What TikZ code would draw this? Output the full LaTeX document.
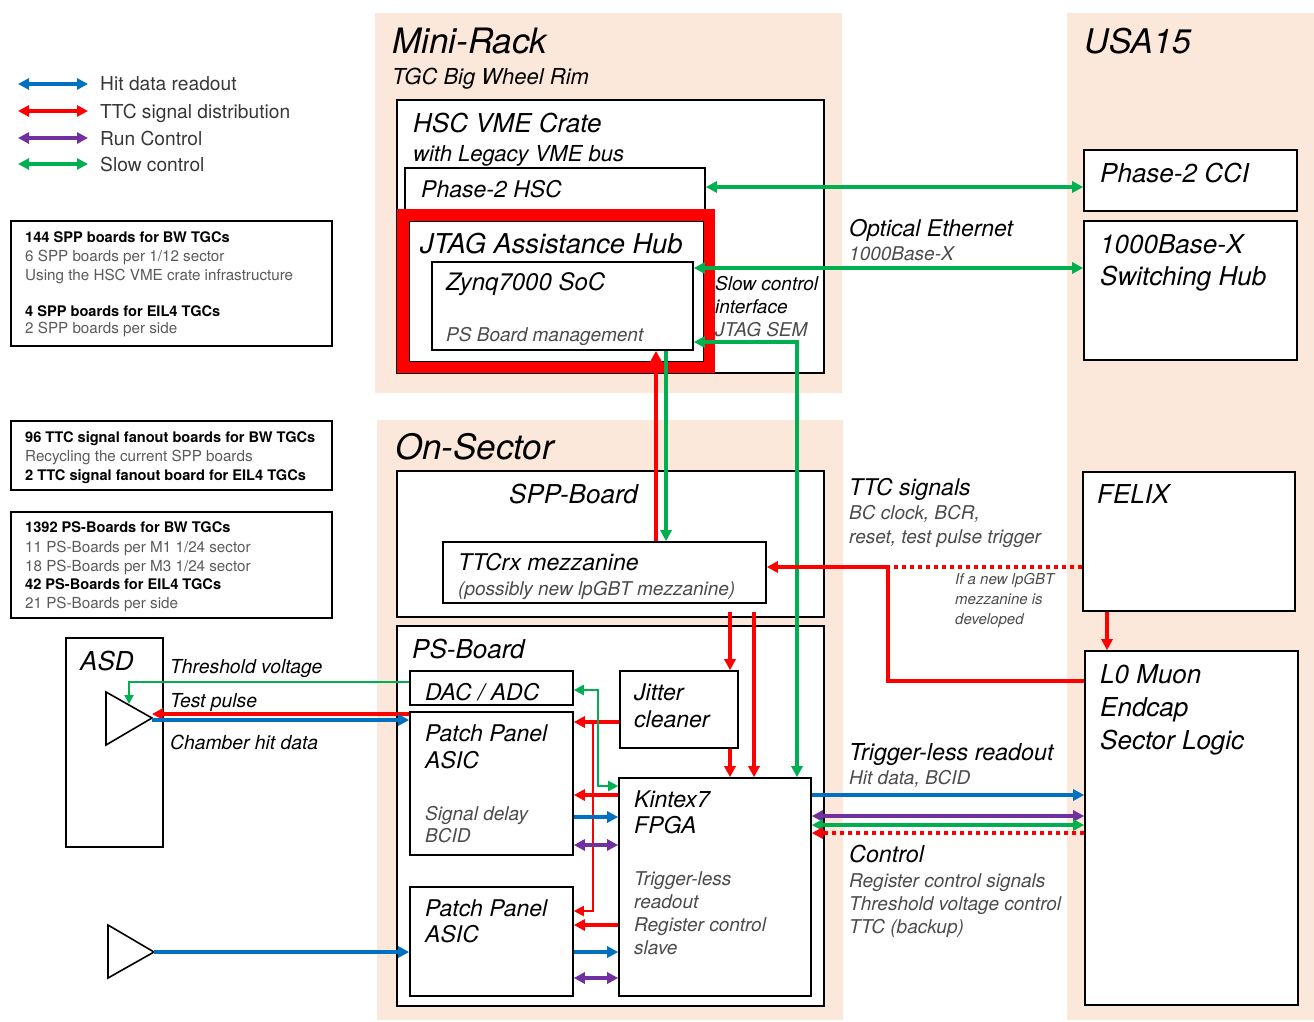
\documentclass[tikz,border=0pt]{standalone}
\usepackage{fontspec}
\setmainfont{TeX Gyre Heros}
\usetikzlibrary{arrows.meta,calc}
\definecolor{peach}{RGB}{252,232,218}
\definecolor{hitblue}{RGB}{0,112,192}
\definecolor{ttcred}{RGB}{255,0,0}
\definecolor{runpurple}{RGB}{112,48,160}
\definecolor{slowgreen}{RGB}{0,176,80}
\definecolor{softgray}{RGB}{75,75,75}
\definecolor{infogray}{RGB}{90,90,90}
\definecolor{legendgray}{RGB}{55,55,55}
\newcommand\setfs[1]{\fontsize{#1}{#1}\selectfont}
\tikzset{
  box/.style={draw, line width=1.6pt, fill=white, inner sep=0pt},
  txt/.style={anchor=base west, inner sep=0pt, font=\itshape\setfs{#1}},
  gtxt/.style={anchor=base west, inner sep=0pt, text=softgray, font=\itshape\setfs{#1}},
  info/.style={anchor=base west, inner sep=0pt, text=infogray, font=\setfs{15.2}},
  infob/.style={anchor=base west, inner sep=0pt, font=\bfseries\setfs{14.6}},
  sig/.style={line width=3.5pt, -{Triangle[length=11pt,width=11pt]}},
  sigboth/.style={line width=3.5pt, {Triangle[length=11pt,width=11pt]}-{Triangle[length=11pt,width=11pt]}},
  thin sig/.style={line width=2pt, -{Triangle[length=9pt,width=9pt]}},
  thin both/.style={line width=2.4pt, {Triangle[length=10pt,width=10pt]}-{Triangle[length=10pt,width=10pt]}},
  dotline/.style={line width=3.5pt, dash pattern=on 4pt off 4pt},
}
\begin{document}
\begin{tikzpicture}[x=1pt,y=-1pt]
\useasboundingbox (0,0) rectangle (1314,1021);

% location backgrounds
\fill[peach] (375,13) rectangle (842,393);
\fill[peach] (377,420) rectangle (843,1020);
\fill[peach] (1067,13) rectangle (1314,1020);

% legend
\coordinate (lgA1) at (18,84);  \coordinate (lgA2) at (88,84);
\coordinate (lgB1) at (18,111); \coordinate (lgB2) at (88,111);
\coordinate (lgC1) at (18,138); \coordinate (lgC2) at (88,138);
\coordinate (lgD1) at (18,164); \coordinate (lgD2) at (88,164);
\draw[sigboth, hitblue] (lgA1) -- (lgA2);
\draw[sigboth, ttcred] (lgB1) -- (lgB2);
\draw[sigboth, runpurple] (lgC1) -- (lgC2);
\draw[sigboth, slowgreen] (lgD1) -- (lgD2);
\node[anchor=base west, inner sep=0pt, text=legendgray, font=\setfs{19.2}] (lgAt) at (100,90) {Hit data readout};
\node[anchor=base west, inner sep=0pt, text=legendgray, font=\setfs{19.2}] (lgBt) at (100,118) {TTC signal distribution};
\node[anchor=base west, inner sep=0pt, text=legendgray, font=\setfs{19.2}] (lgCt) at (100,145) {Run Control};
\node[anchor=base west, inner sep=0pt, text=legendgray, font=\setfs{19.2}] (lgDt) at (100,171) {Slow control};

% board counts
\node[box, minimum width=321pt, minimum height=125pt] (info1) at (171.5,283.5) {};
\node[infob] (i1a) at (25,242) {144 SPP boards for BW TGCs};
\node[info] (i1b) at (25,261) {6 SPP boards per 1/12 sector};
\node[info] (i1c) at (25,280) {Using the HSC VME crate infrastructure};
\node[infob] (i1d) at (25,316) {4 SPP boards for EIL4 TGCs};
\node[info] (i1e) at (25,333) {2 SPP boards per side};

\node[box, minimum width=321pt, minimum height=69pt] (info2) at (171.5,455.5) {};
\node[infob] (i2a) at (25,442) {96 TTC signal fanout boards for BW TGCs};
\node[info] (i2b) at (25,461) {Recycling the current SPP boards};
\node[infob] (i2c) at (25,480) {2 TTC signal fanout board for EIL4 TGCs};

\node[box, minimum width=321pt, minimum height=106pt] (info3) at (171.5,565) {};
\node[infob] (i3a) at (25,532) {1392 PS-Boards for BW TGCs};
\node[info] (i3b) at (25,552) {11 PS-Boards per M1 1/24 sector};
\node[info] (i3c) at (25,571) {18 PS-Boards per M3 1/24 sector};
\node[infob] (i3d) at (25,589) {42 PS-Boards for EIL4 TGCs};
\node[info] (i3e) at (25,608) {21 PS-Boards per side};

% location titles
\node[txt=35] (tmini) at (392,53) {Mini-Rack};
\node[txt=22] (tmini2) at (392,84) {TGC Big Wheel Rim};
\node[txt=34] (tusa) at (1084,53) {USA15};
\node[txt=35] (tons) at (395,459) {On-Sector};

% mini-rack
\node[box, minimum width=427pt, minimum height=273pt] (hscrate) at (610.5,236.5) {};
\node[txt=26] (thsc1) at (413,132) {HSC VME Crate};
\node[txt=22] (thsc2) at (413,161) {with Legacy VME bus};
\node[box, minimum width=300pt, minimum height=46pt] (phsc) at (555,191) {};
\node[txt=23] (tphsc) at (421,197) {Phase-2 HSC};
\node[draw=ttcred, line width=12pt, fill=white, inner sep=0pt, minimum width=306pt, minimum height=152pt] (jtag) at (556,291) {};
\draw[line width=1pt] (409,221) rectangle (703,361);
\node[txt=27.3] (tjtag) at (420,253) {JTAG Assistance Hub};
\node[box, minimum width=261pt, minimum height=88pt] (zynq) at (562.5,306) {};
\node[txt=24] (tzynq) at (446,290) {Zynq7000 SoC};
\node[gtxt=19] (tzynq2) at (446,341) {PS Board management};
\node[txt=19] (tslow1) at (715,290) {Slow control};
\node[txt=19] (tslow2) at (715,313) {interface};
\node[gtxt=19] (tslow3) at (715,336) {JTAG SEM};

% USA15
\node[box, minimum width=213pt, minimum height=61pt] (cci) at (1190.5,180.5) {};
\node[txt=26] (tcci) at (1100,182) {Phase-2 CCI};
\node[box, minimum width=213pt, minimum height=139pt] (swhub) at (1190.5,290.5) {};
\node[txt=26] (tsw1) at (1100,253) {1000Base-X};
\node[txt=26] (tsw2) at (1100,285) {Switching Hub};
\node[box, minimum width=212pt, minimum height=139pt] (felix) at (1189,541.5) {};
\node[txt=26] (tfelix) at (1097,503) {FELIX};
\node[box, minimum width=213pt, minimum height=354pt] (l0) at (1191.5,828) {};
\node[txt=26] (tl0a) at (1100,683) {L0 Muon};
\node[txt=26] (tl0b) at (1100,716) {Endcap};
\node[txt=26] (tl0c) at (1100,749) {Sector Logic};

\node[txt=23] (topt) at (849,236) {Optical Ethernet};
\node[gtxt=19] (topt2) at (849,260) {1000Base-X};

% on-sector: SPP board
\node[box, minimum width=427pt, minimum height=146pt] (spp) at (610.5,544) {};
\node[txt=26] (tspp) at (509,503) {SPP-Board};
\node[box, minimum width=323pt, minimum height=61pt] (ttcrx) at (604.5,572.5) {};
\node[txt=23] (tttcrx) at (458,570) {TTCrx mezzanine};
\node[gtxt=19] (tttcrx2) at (458,595) {(possibly new lpGBT mezzanine)};

\node[txt=23] (tttc) at (849,495) {TTC signals};
\node[gtxt=19] (tttc2) at (849,519) {BC clock, BCR,};
\node[gtxt=19] (tttc3) at (849,543) {reset, test pulse trigger};
\node[gtxt=15] (tif1) at (955,584) {If a new lpGBT};
\node[gtxt=15] (tif2) at (955,604) {mezzanine is};
\node[gtxt=15] (tif3) at (955,624) {developed};

% on-sector: PS board
\node[box, minimum width=427pt, minimum height=380pt] (psb) at (610.5,816) {};
\node[txt=26] (tpsb) at (412,658) {PS-Board};
\node[box, minimum width=163pt, minimum height=34pt] (dac) at (491.5,688) {};
\node[txt=23] (tdac) at (425,700) {DAC / ADC};
\node[box, minimum width=118pt, minimum height=77pt] (jitter) at (679,709.5) {};
\node[txt=23] (tjit1) at (634,700) {Jitter};
\node[txt=23] (tjit2) at (634,727) {cleaner};
\node[box, minimum width=163pt, minimum height=143pt] (pp1) at (491.5,783.5) {};
\node[txt=23] (tpp1a) at (425,741) {Patch Panel};
\node[txt=23] (tpp1b) at (425,768) {ASIC};
\node[gtxt=19] (tpp1c) at (425,820) {Signal delay};
\node[gtxt=19] (tpp1d) at (425,842) {BCID};
\node[box, minimum width=163pt, minimum height=109pt] (pp2) at (491.5,941.5) {};
\node[txt=23] (tpp2a) at (425,916) {Patch Panel};
\node[txt=23] (tpp2b) at (425,942) {ASIC};
\node[box, minimum width=192pt, minimum height=218pt] (kintex) at (715,887) {};
\node[txt=23] (tk1) at (634,807) {Kintex7};
\node[txt=23] (tk2) at (634,833) {FPGA};
\node[gtxt=19] (tk3) at (634,885) {Trigger-less};
\node[gtxt=19] (tk4) at (634,908) {readout};
\node[gtxt=19] (tk5) at (634,931) {Register control};
\node[gtxt=19] (tk6) at (634,954) {slave};

\node[txt=23.3] (ttrl) at (849,760) {Trigger-less readout};
\node[gtxt=19] (ttrl2) at (849,784) {Hit data, BCID};
\node[txt=23.3] (tctl) at (849,862) {Control};
\node[gtxt=19] (tctl2) at (849,887) {Register control signals};
\node[gtxt=19] (tctl3) at (849,910) {Threshold voltage control};
\node[gtxt=19] (tctl4) at (849,933) {TTC (backup)};

% ASD
\node[box, minimum width=97pt, minimum height=209pt] (asd) at (114.5,742.5) {};
\node[txt=26] (tasd) at (80,670) {ASD};
\draw[line width=1.6pt, fill=white, line join=miter] (106,692) -- (106,745) -- (152,718) -- cycle;
\coordinate (amp1) at (152,718);
\draw[line width=1.6pt, fill=white, line join=miter] (108,925) -- (108,978) -- (154,952) -- cycle;
\coordinate (amp2) at (154,952);
\node[txt=19.3] (tthr) at (170,673) {Threshold voltage};
\node[txt=19.3] (ttp) at (170,707) {Test pulse};
\node[txt=19.3] (tchd) at (170,749) {Chamber hit data};

% ---- connectors ----
% slow control over optical ethernet
\draw[sigboth, slowgreen] (phsc.east |- 0,187) -- (cci.west |- 0,187);
\draw[sigboth, slowgreen] (zynq.east |- 0,268) -- (swhub.west |- 0,268);
\draw[sigboth, slowgreen] (zynq.east |- 0,342) -| (797,0 |- kintex.north);
% hub <-> SPP board
\draw[sig, ttcred] (656,0 |- ttcrx.north) -- (656,0 |- zynq.south);
\draw[sig, slowgreen] (666,0 |- zynq.south) -- (666,0 |- ttcrx.north);
% TTC from FELIX / sector logic
\coordinate (ttcj) at (888,567);
\draw[dotline, ttcred] (felix.west |- ttcj) -- (ttcj);
\draw[sig, ttcred] (ttcj) -- (ttcrx.east |- ttcj);
\draw[line width=3.5pt, ttcred] (l0.west |- 0,681) -| (ttcj);
\draw[sig, ttcred] (1107,0 |- felix.south) -- (1107,0 |- l0.north);
% SPP board -> PS board
\coordinate (sppA) at (730,612);
\coordinate (sppB) at (754,612);
\draw[sig, ttcred] (sppA) -- (sppA |- jitter.north);
\draw[sig, ttcred] (sppB) -- (sppB |- kintex.north);
\draw[sig, ttcred] (730,0 |- jitter.south) -- (730,0 |- kintex.north);
% jitter cleaner clock to patch panels
\draw[sig, ttcred] (jitter.west |- 0,722) -- (pp1.east |- 0,722);
\coordinate (clkj) at (593,722);
\draw[line width=2pt, ttcred, -{Triangle[length=10pt,width=10pt]}] (clkj) |- (pp2.east |- 0,911);
% DAC / ADC slow control
\draw[thin both, slowgreen] (dac.east |- 0,690) -- (598,690) -- (598,786) -- (kintex.west |- 0,786);
% FPGA <-> patch panel 1
\draw[sig, ttcred] (kintex.west |- 0,795) -- (pp1.east |- 0,795);
\draw[sig, hitblue] (pp1.east |- 0,817) -- (kintex.west |- 0,817);
\draw[sigboth, runpurple] (pp1.east |- 0,845) -- (kintex.west |- 0,845);
% FPGA <-> patch panel 2
\draw[sig, ttcred] (kintex.west |- 0,925) -- (pp2.east |- 0,925);
\draw[sig, hitblue] (pp2.east |- 0,952) -- (kintex.west |- 0,952);
\draw[sigboth, runpurple] (pp2.east |- 0,978) -- (kintex.west |- 0,978);
% FPGA <-> sector logic
\draw[sig, hitblue] (kintex.east |- 0,795) -- (l0.west |- 0,795);
\draw[sigboth, runpurple] (kintex.east |- 0,816) -- (l0.west |- 0,816);
\draw[sigboth, slowgreen] (kintex.east |- 0,825) -- (l0.west |- 0,825);
\draw[dotline, ttcred] (l0.west |- 0,833) -- (824,833);
\draw[sig, ttcred] (824,833) -- (kintex.east |- 0,833);
% ASD connections
\draw[thin sig, slowgreen] (dac.west |- 0,682) -| (129,704);
\draw[sig, ttcred] (pp1.west |- 0,714) -- (amp1 |- 0,714);
\draw[sig, hitblue] (amp1 |- 0,720) -- (pp1.west |- 0,720);
\draw[sig, hitblue] (amp2) -- (pp2.west |- amp2);
\end{tikzpicture}
\end{document}
